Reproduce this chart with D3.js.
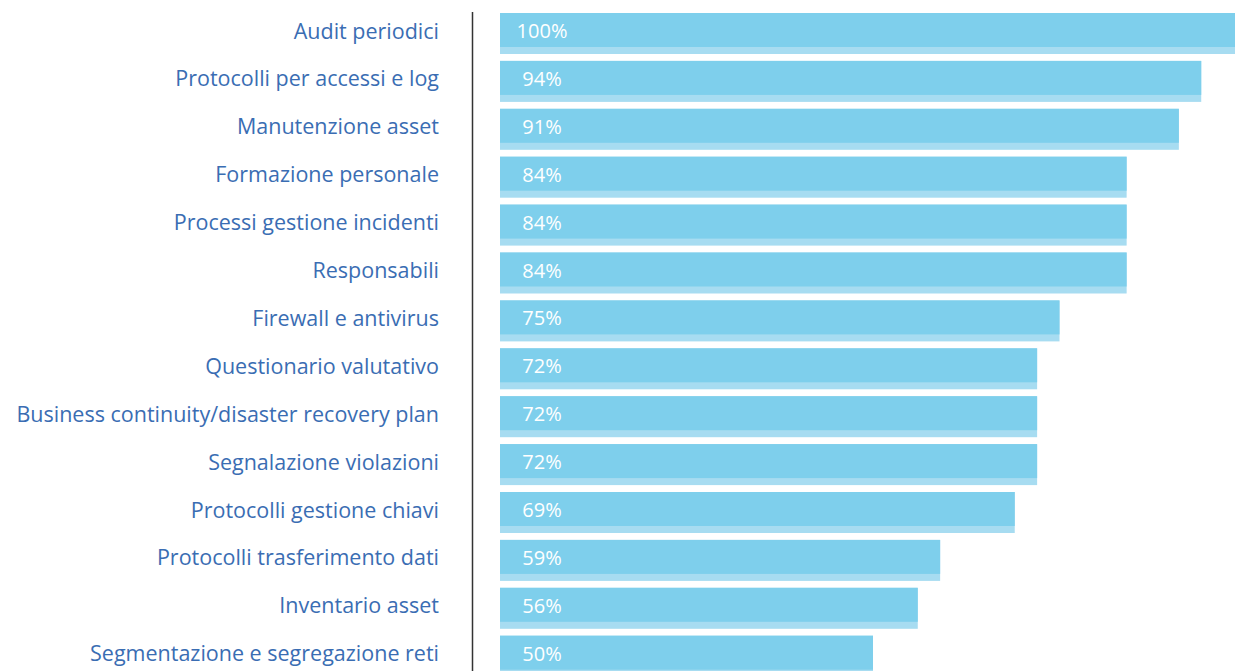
<!DOCTYPE html>
<html>
<head>
<meta charset="utf-8">
<script src="https://cdn.jsdelivr.net/npm/d3@7"></script>
<style>
  body { margin: 0; background: #fff; }
  svg { display: block; }
  .label { font-family: "Open Sans", sans-serif; font-size: 21.5px; fill: #3a6db3; }
  .value { font-family: "Open Sans", sans-serif; font-size: 20px; fill: #fff; }
</style>
</head>
<body>
<svg id="chart" width="1235" height="671"></svg>
<script>
var categories = [
  "Audit periodici",
  "Protocolli per accessi e log",
  "Manutenzione asset",
  "Formazione personale",
  "Processi gestione incidenti",
  "Responsabili",
  "Firewall e antivirus",
  "Questionario valutativo",
  "Business continuity/disaster recovery plan",
  "Segnalazione violazioni",
  "Protocolli gestione chiavi",
  "Protocolli trasferimento dati",
  "Inventario asset",
  "Segmentazione e segregazione reti"
];
var values = [100, 94, 91, 84, 84, 84, 75, 72, 72, 72, 69, 59, 56, 50];

var svg = d3.select("#chart"),
  x0 = 500, step = 47.9, band = 41, topY = 13;

var x = d3.scaleLinear().domain([0, 100]).range([x0, x0 + 746]);

var y = d3.scaleBand()
  .domain(categories)
  .range([topY, topY + 13 * step + band])
  .paddingInner((step - band) / step)
  .paddingOuter(0);

var data = categories.map(function(c, i) { return {name: c, value: values[i]}; });

// axis line
svg.append("line")
  .attr("x1", 472.5).attr("x2", 472.5)
  .attr("y1", 12).attr("y2", 671)
  .attr("stroke", "#333").attr("stroke-width", 1.5);

var rows = svg.append("g").selectAll("g")
  .data(data)
  .enter().append("g")
  .attr("transform", function(d) { return "translate(0," + y(d.name) + ")"; });

// lighter bottom strip
rows.append("rect")
  .attr("x", x0)
  .attr("y", 0)
  .attr("width", function(d) { return x(d.value) - x0; })
  .attr("height", y.bandwidth())
  .attr("fill", "#a7dcf1");

rows.append("rect")
  .attr("x", x0)
  .attr("y", 0)
  .attr("width", function(d) { return x(d.value) - x0; })
  .attr("height", y.bandwidth() - 7)
  .attr("fill", "#7ecfec");

rows.append("text")
  .attr("class", "value")
  .attr("x", 542)
  .attr("y", 18)
  .attr("dy", "0.35em")
  .attr("text-anchor", "middle")
  .text(function(d) { return d.value + "%"; });

rows.append("text")
  .attr("class", "label")
  .attr("x", 439)
  .attr("y", 18)
  .attr("dy", "0.35em")
  .attr("text-anchor", "end")
  .text(function(d) { return d.name; });
</script>
</body>
</html>
